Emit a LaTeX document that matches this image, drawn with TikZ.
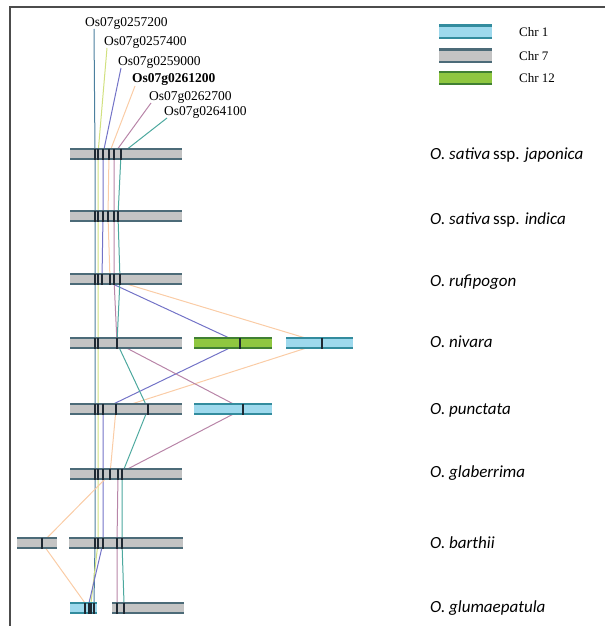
\documentclass[tikz,border=0pt]{standalone}
\usepackage{fontspec}
\setmainfont{Liberation Serif}
\newfontfamily\spfont{Carlito}
\definecolor{cSfill}{rgb}{0.77,0.77,0.77}
\definecolor{cSline}{rgb}{0.30,0.42,0.47}
\definecolor{cOfill}{rgb}{0.62,0.85,0.93}
\definecolor{cOline}{rgb}{0.20,0.55,0.62}
\definecolor{cTfill}{rgb}{0.56,0.78,0.25}
\definecolor{cTline}{rgb}{0.25,0.50,0.20}
\definecolor{gA}{rgb}{0.30,0.50,0.62}
\definecolor{gB}{rgb}{0.82,0.88,0.50}
\definecolor{gC}{rgb}{0.45,0.45,0.78}
\definecolor{gD}{rgb}{0.98,0.80,0.65}
\definecolor{gE}{rgb}{0.72,0.52,0.66}
\definecolor{gF}{rgb}{0.30,0.66,0.62}
\definecolor{tickc}{rgb}{0.12,0.16,0.20}
\begin{document}
\begin{tikzpicture}[x=1pt,y=-1pt,
  bar/.style={rectangle,inner sep=0pt,minimum height=11pt,
    path picture={\draw[line width=3.2pt,draw=#1]
      (path picture bounding box.north west) -- (path picture bounding box.north east)
      (path picture bounding box.south west) -- (path picture bounding box.south east);}},
  chrseven/.style={bar=cSline,fill=cSfill},
  chrone/.style={bar=cOline,fill=cOfill},
  chrtwelve/.style={bar=cTline,fill=cTfill},
  gene/.style={line width=1pt},
  genelab/.style={anchor=west,inner sep=0pt,font=\fontsize{13.5}{15}\selectfont},
  sp/.style={anchor=west,inner sep=0pt,font=\spfont\itshape\fontsize{17}{20}\selectfont},
  legtext/.style={anchor=west,inner sep=0pt,font=\fontsize{13}{15}\selectfont},
  tickmark/.style={draw=tickc,line width=1.1pt}]
\useasboundingbox (0,0) rectangle (605,626);
% frame
\draw[line width=1.2pt,black!70] (10,626) -- (10,7) -- (605,7);

% legend
\node[chrone,minimum width=53pt,minimum height=14pt] (l1) at (465.5,32) {};
\node[chrseven,minimum width=53pt,minimum height=14pt] (l7) at (465.5,56) {};
\node[chrtwelve,minimum width=53pt,minimum height=13pt] (l12) at (465.5,78) {};
\node[legtext] (t1) at (519,32) {Chr 1};
\node[legtext] (t7) at (519,56) {Chr 7};
\node[legtext] (t12) at (519,78) {Chr 12};

% gene labels
\node[genelab] (labA) at (85,23) {Os07g0257200};
\node[genelab] (labB) at (104,42) {Os07g0257400};
\node[genelab] (labC) at (118,62) {Os07g0259000};
\node[genelab,font=\bfseries\fontsize{13.5}{15}\selectfont] (labD) at (132,80) {Os07g0261200};
\node[genelab] (labE) at (149,97) {Os07g0262700};
\node[genelab] (labF) at (164,112) {Os07g0264100};
\coordinate (tA) at (94,29);
\coordinate (tB) at (107,48);
\coordinate (tC) at (121,68);
\coordinate (tD) at (135,86);
\coordinate (tE) at (151,103);
\coordinate (tF) at (167,118);

% gene positions per row
\foreach \x/\y [count=\i] in {95/154,95/216,95/279,95/343,95/409,95/474,95/543,94/603}
  \coordinate (A\i) at (\x,\y);
\foreach \x/\y [count=\i] in {98/154,98/216,98/279,98/343,98/409,98/474,98/543,91/603}
  \coordinate (B\i) at (\x,\y);
\foreach \x/\y [count=\i] in {103/154,103/216,102/279,240/343,103/409,103/474,103/543,89/603}
  \coordinate (C\i) at (\x,\y);
\foreach \x/\y [count=\i] in {109/154,108/216,110/279,322/343,116/409,110/474,42/543,85/603}
  \coordinate (D\i) at (\x,\y);
\foreach \x/\y [count=\i] in {114/154,114/216,114/279,117/343,243/409,118/474,117/543,117/603}
  \coordinate (E\i) at (\x,\y);
\foreach \x/\y [count=\i] in {121/154,118/216,120/279,117/343,148/409,122/474,122/543,124/603}
  \coordinate (F\i) at (\x,\y);

% gene connectors
\foreach \g in {A,B,C,D,E,F}
  \draw[gene,draw=g\g] (t\g) -- (\g1) -- (\g2) -- (\g3) -- (\g4) -- (\g5) -- (\g6) -- (\g7) -- (\g8);

% chromosomes
\node[chrseven,minimum width=112pt] (jap) at (126,154) {};
\node[chrseven,minimum width=112pt] (ind) at (126,216) {};
\node[chrseven,minimum width=112pt] (ruf) at (126,279) {};
\node[chrseven,minimum width=112pt] (niv) at (126,343) {};
\node[chrtwelve,minimum width=78pt] (nivg) at (233,343) {};
\node[chrone,minimum width=67pt] (nivb) at (319.5,343) {};
\node[chrseven,minimum width=112pt] (pun) at (126,409) {};
\node[chrone,minimum width=78pt] (punb) at (233,409) {};
\node[chrseven,minimum width=112pt] (gla) at (126,474) {};
\node[chrseven,minimum width=40pt] (bars) at (37,543) {};
\node[chrseven,minimum width=114pt] (bar) at (126,543) {};
\node[chrone,minimum width=27pt] (gluc) at (83.5,608) {};
\node[chrseven,minimum width=72pt] (glug) at (148,608) {};

% marker ticks
\foreach \g in {B,C,D,E,F}
  \foreach \i in {1,...,7}
    \draw[tickmark] (\g\i) ++(0,-5.5) -- ++(0,11);
\foreach \i in {1,...,7}
  \draw[tickmark,line width=1.8pt] (A\i) ++(0,-5.5) -- ++(0,11);
\foreach \g in {A,B,C,D,E,F}
  \draw[tickmark] (\g8) ++(0,-0.5) -- ++(0,11);

% species labels
\node[sp] (s1) at (430,155) {O. sativa\,{\upshape ssp.} japonica};
\node[sp] (s2) at (430,220) {O. sativa\,{\upshape ssp.} indica};
\node[sp] (s3) at (430,282) {O. rufipogon};
\node[sp] (s4) at (430,342) {O. nivara};
\node[sp] (s5) at (430,410) {O. punctata};
\node[sp] (s6) at (430,473) {O. glaberrima};
\node[sp] (s7) at (430,543) {O. barthii};
\node[sp] (s8) at (430,608) {O. glumaepatula};
\end{tikzpicture}
\end{document}
